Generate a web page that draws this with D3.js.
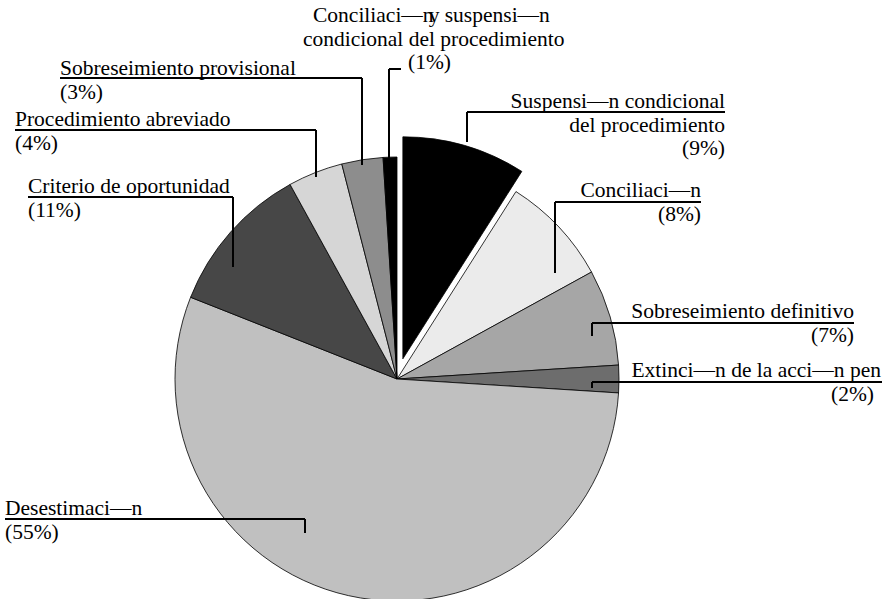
<!DOCTYPE html>
<html lang="en">
<head>
    <meta charset="UTF-8">
    <title>Salidas</title>
    <script src="https://d3js.org/d3.v7.min.js"></script>
    <style>
        body { margin: 0; background: #fff; }
        text { font-family: "Liberation Serif", "Times New Roman", serif; font-size: 21.5px; fill: #000; }
    </style>
</head>
<body>
<svg id="viz" width="882" height="599"></svg>

<script>
    // data, clockwise from 12 o'clock
    var categories = ['Suspensi—n condicional del procedimiento', 'Conciliaci—n', 'Sobreseimiento definitivo',
        'Extinci—n de la acci—n pen', 'Desestimaci—n', 'Criterio de oportunidad',
        'Procedimiento abreviado', 'Sobreseimiento provisional', 'Conciliaci—n y suspensi—n condicional del procedimiento'];
    var values = [9, 8, 7, 2, 55, 11, 4, 3, 1];
    var percentLabels = ['(9%)', '(8%)', '(7%)', '(2%)', '(55%)', '(11%)', '(4%)', '(3%)', '(1%)'];

    var colors = ['#000000', '#ebebeb', '#a6a6a6', '#6d6d6d', '#c0c0c0', '#474747', '#d6d6d6', '#8d8d8d', '#000000'];
    var explode = [21, 0, 0, 0, 0, 0, 0, 0, 0];

    // label layout: text lines, anchor, position, leader elbow and tip
    var labelLayout = [
        {lines: ['Suspensi—n condicional', 'del procedimiento'], anchor: 'end', x: 725, y: 108, ux: 467, uy: 112, tip: 142},
        {lines: ['Conciliaci—n'], anchor: 'end', x: 701, y: 197, ux: 555, uy: 202, tip: 273},
        {lines: ['Sobreseimiento definitivo'], anchor: 'end', x: 854, y: 318, ux: 592, uy: 323, tip: 336},
        {lines: ['Extinci—n de la acci—n pen'], anchor: 'end', x: 881, y: 377, px: 874, ux: 592, uy: 382, uend: 882, tip: 388},
        {lines: ['Desestimaci—n'], anchor: 'start', x: 5, y: 515, ux: 305, uy: 519, tip: 533},
        {lines: ['Criterio de oportunidad'], anchor: 'start', x: 28, y: 193, ux: 233, uy: 197, tip: 267},
        {lines: ['Procedimiento abreviado'], anchor: 'start', x: 15, y: 126, ux: 316, uy: 130, tip: 177},
        {lines: ['Sobreseimiento provisional'], anchor: 'start', x: 60, y: 75, ux: 362, uy: 78, tip: 165},
        {lines: ['Conciliaci—n', 'condicional del procedimiento'], second: 'y suspensi—n', anchor: 'start', x: 313, y: 22,
            lineX: [313, 303], px: 408, ux: 389, uy: 69, uend: 401, tip: 158}
    ];

    var cx = 397, cy = 379, radius = 222, lineH = 23.5;

    var svg = d3.select('#viz');

    var pie = d3.pie().sort(null).startAngle(0).endAngle(2 * Math.PI);
    var arc = d3.arc().innerRadius(0).outerRadius(radius);
    var arcs = pie(values);

    var g = svg.append('g').attr('transform', 'translate(' + cx + ',' + cy + ')');

    g.selectAll('.slice')
        .data(arcs)
        .enter()
        .append('path')
        .attr('class', 'slice')
        .attr('transform', function (d, i) {
            var mid = (d.startAngle + d.endAngle) / 2;
            return 'translate(' + (Math.sin(mid) * explode[i]) + ',' + (-Math.cos(mid) * explode[i]) + ')';
        })
        .attr('d', arc)
        .attr('fill', function (d, i) { return colors[i]; })
        .attr('stroke', '#000')
        .attr('stroke-width', 0.8);

    // labels
    labelLayout.forEach(function (lab, i) {
        var t = svg.append('text').attr('text-anchor', lab.anchor);
        lab.lines.forEach(function (ln, k) {
            var lx = lab.lineX ? lab.lineX[k] : lab.x;
            t.append('tspan').attr('x', lx).attr('y', lab.y + k * lineH).text(ln);
            if (k === 0 && lab.second) {
                t.append('tspan').attr('dx', -5).text(lab.second);
            }
        });
        var pct = lab.px !== undefined ? lab.px : lab.x;
        var panchor = lab.px !== undefined ? (i === 8 ? 'start' : 'end') : lab.anchor;
        svg.append('text')
            .attr('text-anchor', panchor)
            .attr('x', pct)
            .attr('y', lab.y + lab.lines.length * lineH)
            .text(percentLabels[i]);

        // leader: underline then vertical tick into the slice
        var x1, x2;
        if (lab.uend !== undefined) {
            x1 = lab.ux; x2 = lab.uend;
        } else if (lab.anchor === 'start') {
            x1 = lab.x; x2 = lab.ux;
        } else {
            x1 = lab.ux; x2 = lab.x;
        }
        svg.append('path')
            .attr('d', 'M' + x1 + ',' + lab.uy + 'H' + x2 + 'M' + lab.ux + ',' + lab.uy + 'V' + lab.tip)
            .attr('fill', 'none')
            .attr('stroke', '#000')
            .attr('stroke-width', 2);
    });
</script>
</body>
</html>
